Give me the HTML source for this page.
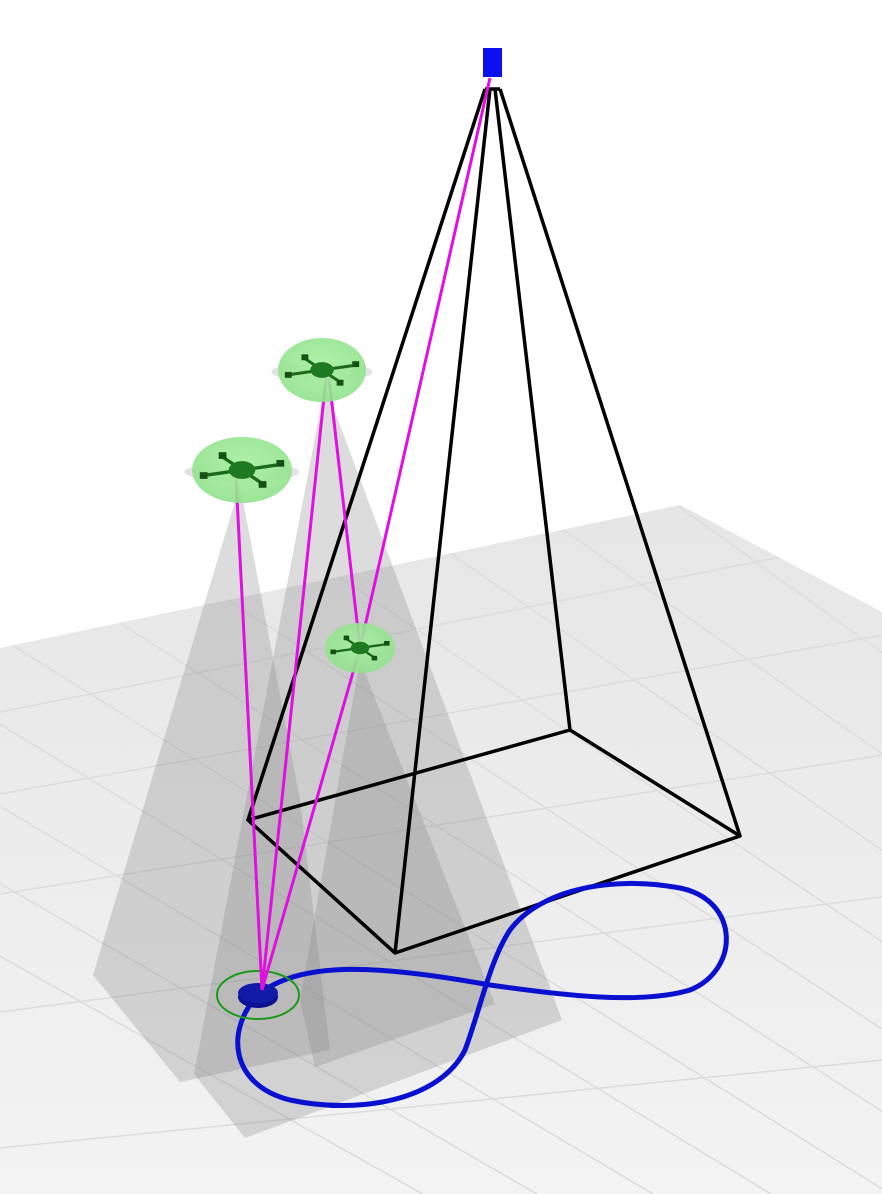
<!DOCTYPE html>
<html><head><meta charset="utf-8"><style>html,body{margin:0;padding:0;background:#fff;width:882px;height:1194px;overflow:hidden}svg{display:block}</style></head>
<body>
<svg width="882" height="1194" viewBox="0 0 882 1194" xmlns="http://www.w3.org/2000/svg">
<defs>
<linearGradient id="fl" x1="0" y1="0" x2="0" y2="1"><stop offset="0" stop-color="#e6e6e6"/><stop offset="1" stop-color="#f3f3f3"/></linearGradient>
<radialGradient id="dg" cx="0.5" cy="0.45" r="0.6"><stop offset="0" stop-color="#a8f0a0"/><stop offset="1" stop-color="#8ee08a"/></radialGradient>
<clipPath id="fc"><polygon points="0,648 680,505 882,612 882,1194 0,1194"/></clipPath>
</defs>
<polygon points="0,648 680,505 882,612 882,1194 0,1194" fill="url(#fl)"/>
<g id="grid" stroke="#dcdcdc" stroke-width="1.5" fill="none" clip-path="url(#fc)"></g>
<g fill="#808080" fill-opacity="0.28">
<polygon points="240,485 93,975 180,1082 330,1050 300,800"/>
<polygon points="325,385 194,1074 245,1138 562,1020"/>
<polygon points="360,660 300,1000 315,1067 495,1004"/>
</g>
<g stroke="#000" stroke-width="3.5" fill="none" stroke-linejoin="round">
<polygon points="248,820 570,730 740,836 395,953"/>
<line x1="485" y1="89" x2="248" y2="820"/>
<line x1="490" y1="89" x2="395" y2="953"/>
<line x1="495" y1="89" x2="570" y2="730"/>
<line x1="500" y1="89" x2="740" y2="836"/>
<line x1="485" y1="89" x2="500" y2="89"/>
</g>
<path d="M258,995 C300,960 380,965 490,985 C560,995 640,1005 690,990 C740,970 740,900 680,888 C610,875 540,890 510,930 C490,960 480,1010 465,1050 C440,1100 360,1115 290,1100 C230,1085 225,1030 258,995 Z" fill="none" stroke="#0a10d0" stroke-width="5"/>
<g>
<ellipse cx="258" cy="995" rx="41" ry="24" fill="none" stroke="#1a9a1a" stroke-width="2"/>
<ellipse cx="258" cy="997" rx="20" ry="11" fill="#0a1090"/>
<ellipse cx="258" cy="993" rx="20" ry="10" fill="#121aa8"/>
</g>
<g stroke="#e010e0" stroke-width="3" fill="none">
<line x1="490" y1="78" x2="360" y2="648"/>
<line x1="360" y1="648" x2="262" y2="990"/>
<line x1="326" y1="378" x2="262" y2="990"/>
<line x1="329" y1="378" x2="360" y2="648"/>
<line x1="236" y1="478" x2="262" y2="990"/>
</g>
<rect x="483" y="48" width="19" height="29" fill="#0a10f0"/>
<g id="drones"></g>
</svg>
<script>
const drones=[{n:'drone-1',x:322,y:370,rx:44,ry:32},{n:'drone-2',x:242,y:470,rx:50,ry:33},{n:'drone-3',x:360,y:648,rx:35,ry:25}];
const ns='http://www.w3.org/2000/svg';
const g=document.getElementById('drones');
drones.forEach(d=>{
 const grp=document.createElementNS(ns,'g');
 
 
 const s=d.rx/45;
 grp.innerHTML=`<ellipse cx="${d.x}" cy="${d.y+2}" rx="${d.rx*1.15}" ry="${d.ry*0.3}" fill="#c8c8c8" opacity="0.5"/>
<ellipse cx="${d.x}" cy="${d.y}" rx="${d.rx}" ry="${d.ry}" fill="url(#dg)" opacity="0.9"/>
<g stroke="#1a6a1a" stroke-width="${3*s}"><line x1="${d.x-35*s}" y1="${d.y+5*s}" x2="${d.x+35*s}" y2="${d.y-5*s}"/><line x1="${d.x-18*s}" y1="${d.y-12*s}" x2="${d.x+18*s}" y2="${d.y+12*s}"/></g>
<ellipse cx="${d.x}" cy="${d.y}" rx="${12*s}" ry="${8*s}" fill="#1e7a1e"/>
<g fill="#145014"><rect x="${d.x-38*s}" y="${d.y+2*s}" width="${7*s}" height="${6*s}"/><rect x="${d.x+31*s}" y="${d.y-9*s}" width="${7*s}" height="${6*s}"/><rect x="${d.x-21*s}" y="${d.y-16*s}" width="${7*s}" height="${6*s}"/><rect x="${d.x+15*s}" y="${d.y+10*s}" width="${7*s}" height="${6*s}"/></g>`;
 g.appendChild(grp);
});
const grid=document.getElementById('grid');
function L(x1,y1,x2,y2){const l=document.createElementNS(ns,'line');l.setAttribute('x1',x1);l.setAttribute('y1',y1);l.setAttribute('x2',x2);l.setAttribute('y2',y2);grid.appendChild(l);}
[1,2,3,4,5,6,7].forEach(i=>{const o=i*55+i*i*9;L(0,648+o,882,460+o*1.2);});
[0,1,2,3,4,5,6,7,8,9,10,11].forEach(i=>{const x=-900+i*150;L(x,450,x+1600,1350+i*25);});
</script>
</body></html>
